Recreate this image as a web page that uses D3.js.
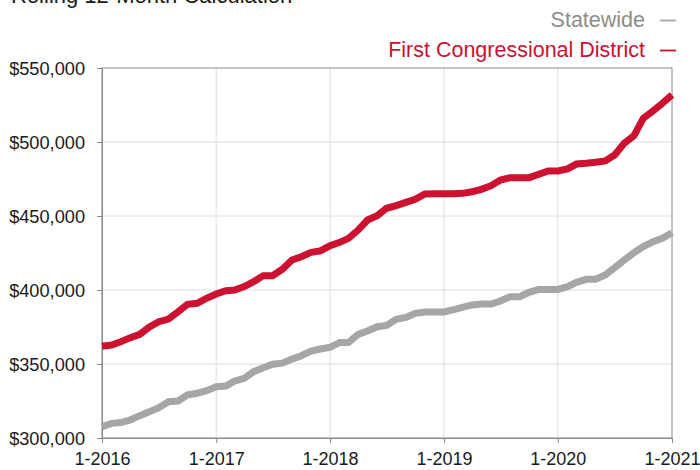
<!DOCTYPE html>
<html>
<head>
<meta charset="utf-8">
<script src="https://cdn.jsdelivr.net/npm/d3@7"></script>
<style>
  html, body { margin: 0; padding: 0; background: #fff; }
  svg { display: block; }
  svg text { font-family: "Liberation Sans", Arial, Helvetica, sans-serif; }
</style>
</head>
<body>
<svg id="chart" width="700" height="470"></svg>
<script>
// ---- data ----
const title = "Rolling 12-Month Calculation";
const seriesNames = ["Statewide", "First Congressional District"];
const startMonth = "2016-01";
const monthCount = 61;
const xTickLabels = ["1-2016", "1-2017", "1-2018", "1-2019", "1-2020", "1-2021"];
const yTickValues = [300000, 350000, 400000, 450000, 500000, 550000];

const statewide = [
  307700, 309900, 310400, 312200, 315100, 317800, 320500, 324500, 325000, 329100, 330200, 332000,
  334700, 335100, 338500, 340300, 344800, 347500, 349800, 350600, 353300, 355600, 358800, 360100,
  361300, 364600, 364600, 370000, 372300, 375200, 376100, 380200, 381500, 384200, 385100, 385100,
  385200, 386700, 388200, 389900, 390500, 390500, 392600, 395500, 395500, 398400, 400400, 400400,
  400400, 402300, 405200, 407200, 407200, 410100, 415100, 420300, 425200, 429300, 432700, 434900,
  438700
];
const firstDistrict = [
  362000, 362800, 365000, 367800, 370000, 375000, 378600, 380400, 385300, 390300, 391000, 394400,
  397300, 399500, 400000, 402300, 405600, 409700, 409700, 414000, 420300, 422500, 425400, 426400,
  430000, 432200, 434900, 440500, 447300, 450200, 455200, 457000, 459200, 461300, 464900, 465000,
  465000, 465000, 465300, 466400, 468000, 470500, 474300, 475900, 475900, 475900, 478200, 480400,
  480400, 481800, 485100, 485600, 486300, 487200, 491200, 499100, 504300, 516000, 520900, 526100,
  531800
];

// ---- layout ----
const svg = d3.select("#chart");
const m = { left: 102, right: 672, top: 68, bottom: 438 };
const colors = { state: "#a6a6a6", stateText: "#8c8c8c", red: "#cc1131", grid: "#dedede", frame: "#8a8a8a", text: "#1a1a1a" };
const FONT = '"Liberation Sans", Arial, Helvetica, sans-serif';

const parse = d3.timeParse("%Y-%m");
const start = parse(startMonth);
const months = d3.range(monthCount).map(i => d3.timeMonth.offset(start, i));
const yearTicks = xTickLabels.map(s => parse(s.split("-")[1] + "-01"));

const x = d3.scaleTime().domain([months[0], months[months.length - 1]]).range([m.left, m.right]);
const y = d3.scaleLinear().domain([300000, 550000]).range([m.bottom, m.top]);

// grid
const g = svg.append("g");
g.selectAll("line.hg").data(yTickValues.slice(1, -1)).join("line")
  .attr("x1", m.left).attr("x2", m.right)
  .attr("y1", d => y(d)).attr("y2", d => y(d))
  .attr("stroke", colors.grid).attr("stroke-width", 1);
g.selectAll("line.vg").data(yearTicks.slice(1, -1)).join("line")
  .attr("x1", d => x(d)).attr("x2", d => x(d))
  .attr("y1", m.top).attr("y2", m.bottom)
  .attr("stroke", colors.grid).attr("stroke-width", 1);

// frame
svg.append("rect")
  .attr("x", m.left).attr("y", m.top)
  .attr("width", m.right - m.left).attr("height", m.bottom - m.top)
  .attr("fill", "none").attr("stroke", colors.frame).attr("stroke-width", 1);

// axes
const yAxis = d3.axisLeft(y).tickValues(yTickValues).tickSize(5).tickPadding(12)
  .tickFormat(d => "$" + d3.format(",")(d));
const yg = svg.append("g").attr("transform", `translate(${m.left},0)`).call(yAxis)
  .attr("font-family", FONT).attr("font-size", 18.2);
yg.select(".domain").attr("stroke", colors.frame);
yg.selectAll(".tick line").attr("stroke", colors.frame);
yg.selectAll(".tick text").attr("fill", colors.text).attr("dy", "0.35em");

const xAxis = d3.axisBottom(x).tickValues(yearTicks).tickSize(5).tickPadding(9)
  .tickFormat((d, i) => xTickLabels[i]);
const xg = svg.append("g").attr("transform", `translate(0,${m.bottom})`).call(xAxis)
  .attr("font-family", FONT).attr("font-size", 18);
xg.select(".domain").attr("stroke", colors.frame);
xg.selectAll(".tick line").attr("stroke", colors.frame);
xg.selectAll(".tick text").attr("fill", colors.text);

// lines
const line = d3.line().x((d, i) => x(months[i])).y(d => y(d));
svg.append("path").datum(statewide).attr("d", line)
  .attr("fill", "none").attr("stroke", colors.state).attr("stroke-width", 7);
svg.append("path").datum(firstDistrict).attr("d", line)
  .attr("fill", "none").attr("stroke", colors.red).attr("stroke-width", 7);

// title (partly cut off at top, as in the reference)
svg.append("text").attr("x", 11).attr("y", 3)
  .attr("fill", colors.text).attr("font-family", FONT).attr("font-size", 22).text(title);

// legend
const legend = [
  { name: seriesNames[0], color: colors.stateText, dash: colors.state, yb: 27 },
  { name: seriesNames[1], color: colors.red, dash: colors.red, yb: 57 }
];
legend.forEach(l => {
  svg.append("text").attr("x", 645).attr("y", l.yb).attr("text-anchor", "end")
    .attr("fill", l.color).attr("font-family", FONT).attr("font-size", 21.5).text(l.name);
  svg.append("line").attr("x1", 660).attr("x2", 676)
    .attr("y1", l.yb - 6.5).attr("y2", l.yb - 6.5)
    .attr("stroke", l.dash).attr("stroke-width", 1.8);
});
</script>
</body>
</html>
